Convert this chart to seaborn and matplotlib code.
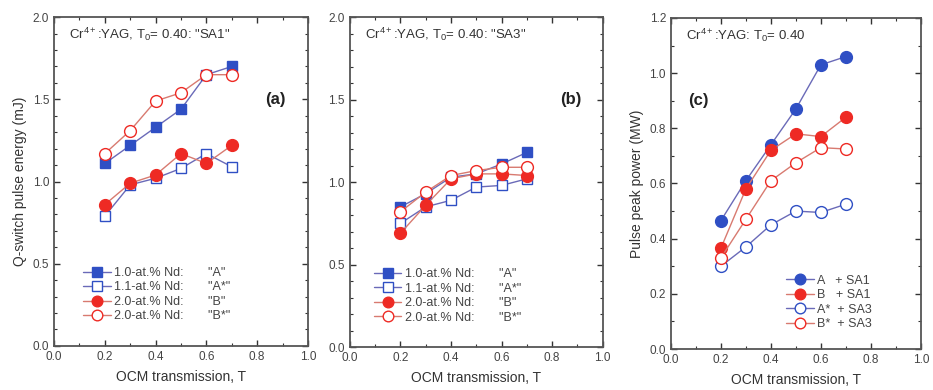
import numpy as np
import pandas as pd
import matplotlib
matplotlib.use('Agg')
import matplotlib.pyplot as plt
import seaborn as sns
from matplotlib.ticker import MultipleLocator

T = [0.2, 0.3, 0.4, 0.5, 0.6, 0.7]

# panel (a): SA1, Q-switch pulse energy (mJ)
a_A = [1.11, 1.22, 1.33, 1.44, 1.65, 1.70]
a_Astar = [0.79, 0.98, 1.02, 1.08, 1.17, 1.09]
a_B = [0.86, 0.99, 1.04, 1.17, 1.11, 1.22]
a_Bstar = [1.17, 1.31, 1.49, 1.54, 1.65, 1.65]

# panel (b): SA3
b_A = [0.85, 0.93, 1.03, 1.05, 1.11, 1.18]
b_Astar = [0.75, 0.85, 0.89, 0.97, 0.98, 1.02]
b_B = [0.69, 0.86, 1.02, 1.05, 1.05, 1.04]
b_Bstar = [0.82, 0.94, 1.04, 1.07, 1.09, 1.09]

# panel (c): pulse peak power (MW)
c_A_SA1 = [0.465, 0.61, 0.74, 0.87, 1.03, 1.06]
c_B_SA1 = [0.365, 0.58, 0.72, 0.78, 0.77, 0.84]
c_Astar_SA3 = [0.30, 0.37, 0.45, 0.50, 0.495, 0.525]
c_Bstar_SA3 = [0.33, 0.47, 0.61, 0.675, 0.73, 0.725]

ab_labels = ['1.0-at.% Nd:       "A"', '1.1-at.% Nd:       "A*"',
             '2.0-at.% Nd:       "B"', '2.0-at.% Nd:       "B*"']
c_labels = ['A   + SA1', 'B   + SA1', 'A*  + SA3', 'B*  + SA3']

sns.set_style('ticks')
plt.rcParams['font.family'] = ['Liberation Sans', 'DejaVu Sans']
plt.rcParams['mathtext.fontset'] = 'custom'
plt.rcParams['mathtext.rm'] = 'Liberation Sans'
plt.rcParams['mathtext.it'] = 'Liberation Sans:italic'

BLUE = '#2f4fc4'
BLUE_LINE = '#6a6ab8'
RED = '#ee2a24'
RED_LINE = '#d87a70'

fig = plt.figure(figsize=(9.33, 3.9), dpi=100)
ax_a = fig.add_axes([0.058, 0.113, 0.272, 0.843])
ax_b = fig.add_axes([0.375, 0.110, 0.271, 0.846])
ax_c = fig.add_axes([0.719, 0.105, 0.268, 0.849])


def draw(ax, y, label, marker, filled, color, lcolor):
    df = pd.DataFrame({'T': T, 'v': y})
    sns.lineplot(data=df, x='T', y='v', ax=ax, color=lcolor, linewidth=1.0,
                 marker=marker, markersize=7.5 if marker == 's' else 8.5,
                 markerfacecolor=color if filled else 'white',
                 markeredgecolor=color, markeredgewidth=1.0, label=label)


def style(ax, ymax, ymajor, ylabel, note, tag, tagpos, legpos):
    ax.set_xlim(0, 1.0)
    ax.set_ylim(0, ymax)
    ax.xaxis.set_major_locator(MultipleLocator(0.2))
    ax.xaxis.set_minor_locator(MultipleLocator(0.1))
    ax.yaxis.set_major_locator(MultipleLocator(ymajor))
    ax.yaxis.set_minor_locator(MultipleLocator(0.1))
    ax.tick_params(which='both', direction='in', top=True, right=True,
                   labelsize=8.5, colors='#333333', labelcolor='#444444')
    ax.tick_params(which='major', length=4, width=1.0)
    ax.tick_params(which='minor', length=2.5, width=0.8)
    ax.xaxis.set_major_formatter(plt.FuncFormatter(lambda v, p: f'{v:.1f}'))
    ax.yaxis.set_major_formatter(plt.FuncFormatter(lambda v, p: f'{v:.1f}'))
    for s in ax.spines.values():
        s.set_color('#555555')
        s.set_linewidth(1.3)
    ax.set_xlabel('OCM transmission, T', fontsize=10, color='#333333', labelpad=5)
    ax.set_ylabel(ylabel, fontsize=10, color='#333333', labelpad=4)
    ax.text(0.06, 0.935, note, transform=ax.transAxes, fontsize=9.5, color='#333333')
    ax.text(tagpos[0], tagpos[1], tag, transform=ax.transAxes, fontsize=12,
            fontweight='bold', color='#222222', ha='center', va='center')
    leg = ax.legend(loc=legpos[0], bbox_to_anchor=legpos[1], frameon=False,
                    fontsize=9, handlelength=2.2, handletextpad=0.3,
                    labelspacing=0.2, borderpad=0.2, markerscale=0.9)
    for t in leg.get_texts():
        t.set_color('#444444')


for ax, ys in [(ax_a, (a_A, a_Astar, a_B, a_Bstar)), (ax_b, (b_A, b_Astar, b_B, b_Bstar))]:
    draw(ax, ys[0], ab_labels[0], 's', True, BLUE, BLUE_LINE)
    draw(ax, ys[1], ab_labels[1], 's', False, BLUE, BLUE_LINE)
    draw(ax, ys[2], ab_labels[2], 'o', True, RED, RED_LINE)
    draw(ax, ys[3], ab_labels[3], 'o', False, RED, RED_LINE)

draw(ax_c, c_A_SA1, c_labels[0], 'o', True, BLUE, BLUE_LINE)
draw(ax_c, c_B_SA1, c_labels[1], 'o', True, RED, RED_LINE)
draw(ax_c, c_Astar_SA3, c_labels[2], 'o', False, BLUE, BLUE_LINE)
draw(ax_c, c_Bstar_SA3, c_labels[3], 'o', False, RED, RED_LINE)

style(ax_a, 2.0, 0.5, 'Q-switch pulse energy (mJ)',
      r'Cr$^{4+}$:YAG, T$_0$= 0.40: "SA1"', '(a)', (0.87, 0.75),
      ('lower left', (0.08, 0.045)))
style(ax_b, 2.0, 0.5, '',
      r'Cr$^{4+}$:YAG, T$_0$= 0.40: "SA3"', '(b)', (0.875, 0.75),
      ('lower left', (0.06, 0.045)))
style(ax_c, 1.2, 0.2, 'Pulse peak power (MW)',
      r'Cr$^{4+}$:YAG: T$_0$= 0.40', '(c)', (0.11, 0.75),
      ('lower right', (0.84, 0.03)))

fig.savefig('out.png', dpi=100)
